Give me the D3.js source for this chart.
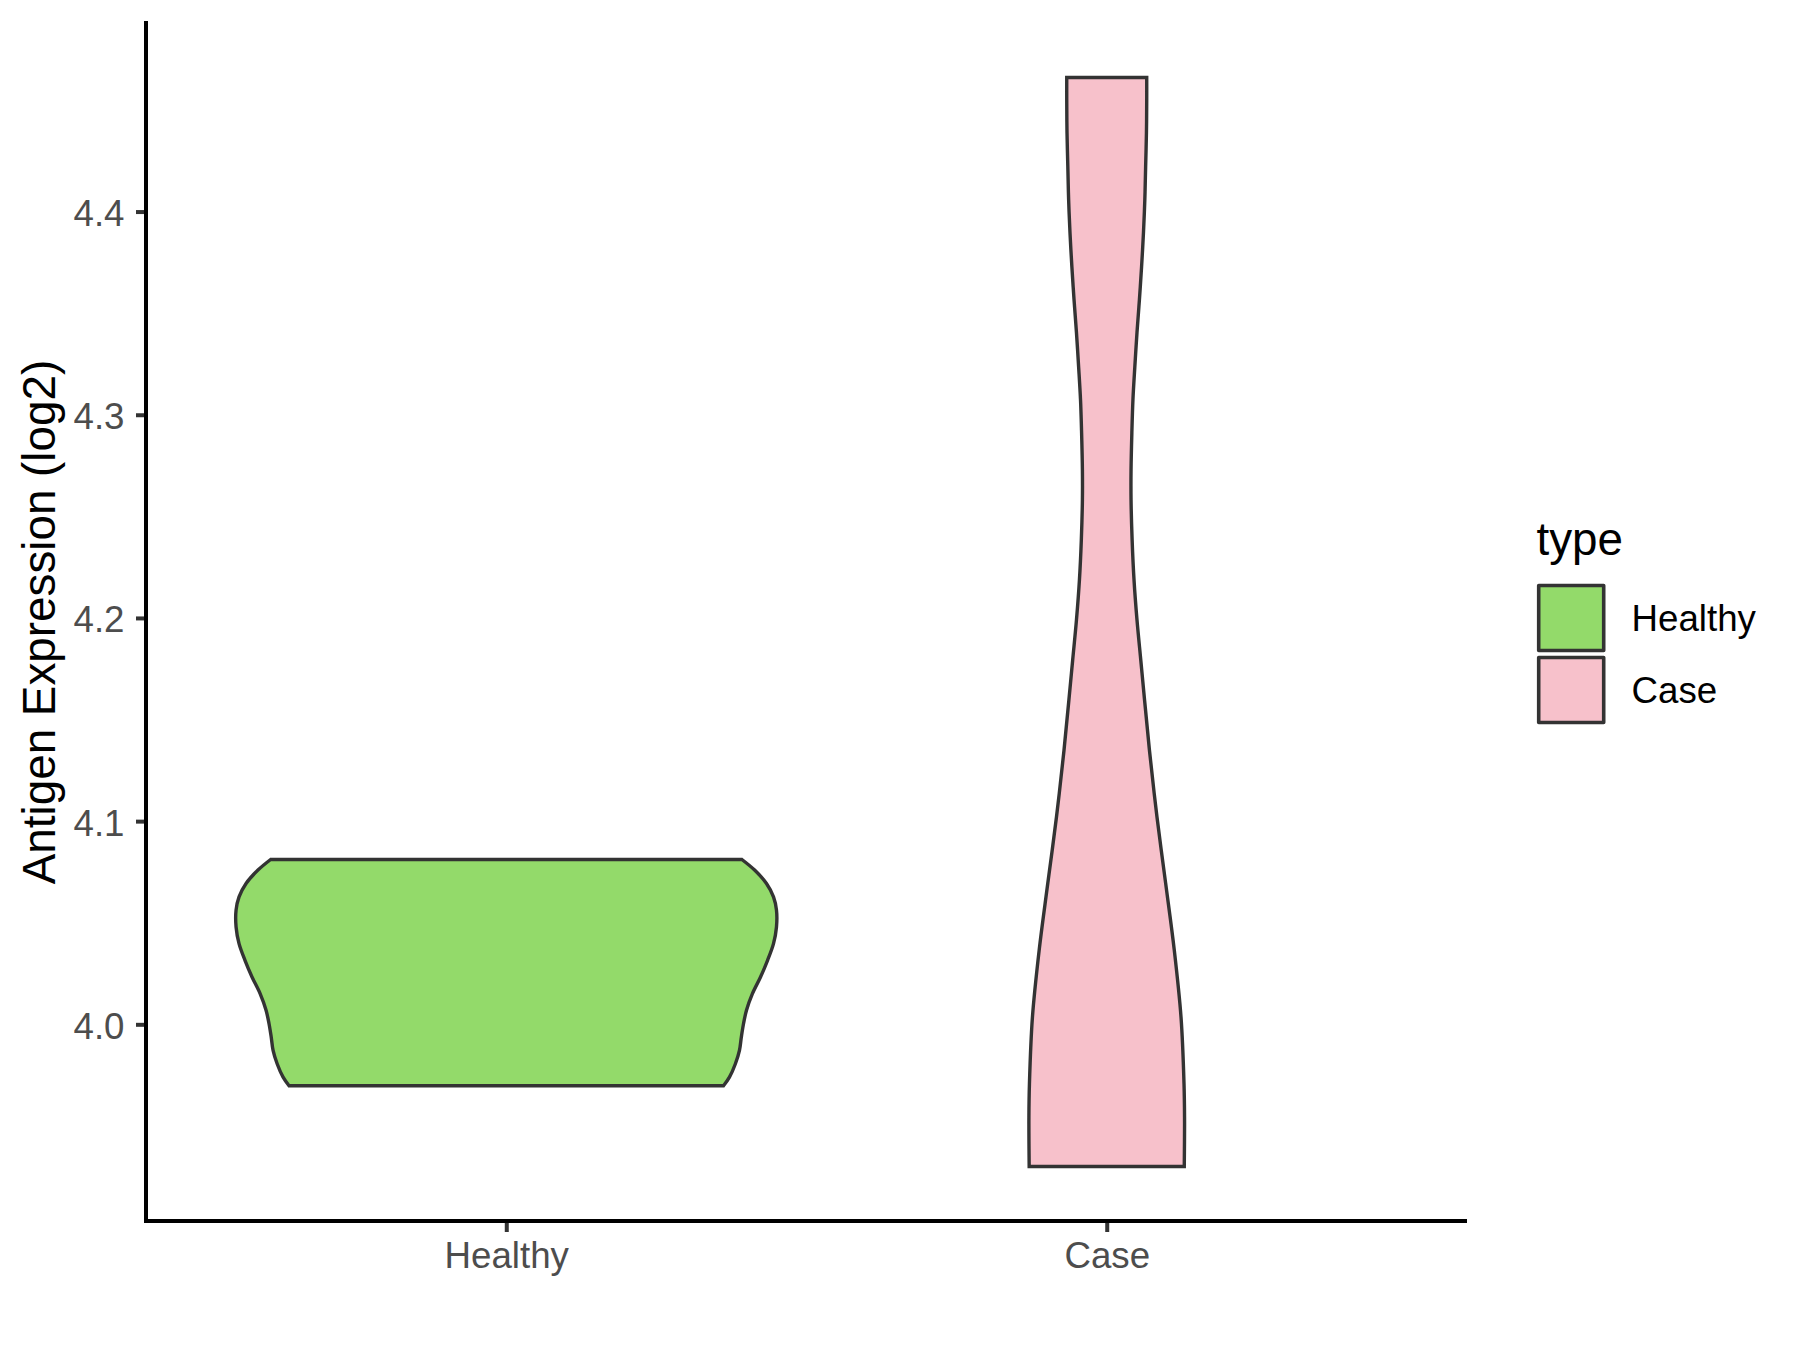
<!DOCTYPE html>
<html><head><meta charset="utf-8">
<script src="https://cdn.jsdelivr.net/npm/d3@7"></script>
<style>body{margin:0;background:#fff}</style>
</head><body>
<script>
// ---- data ----
const categories = ["Healthy", "Case"];
const fillColors = ["#93DA6A", "#F7C1CB"];
// violin outline: expression value and relative (scaled) density half-width
const healthyValues  = [3.9698, 3.9740, 3.9806, 3.9872, 3.9938, 4.0003, 4.0069, 4.0151, 4.0233, 4.0315, 4.0397, 4.0479, 4.0562, 4.0627, 4.0693, 4.0759, 4.0811];
const healthyDensity = [0.804, 0.826, 0.848, 0.863, 0.870, 0.878, 0.889, 0.911, 0.941, 0.967, 0.989, 1.000, 1.000, 0.989, 0.963, 0.919, 0.872];
const caseValues  = [3.9300, 3.9542, 3.9709, 4.0034, 4.0365, 4.0695, 4.1020, 4.1350, 4.1596, 4.1793, 4.1990, 4.2187, 4.2384, 4.2581, 4.2729, 4.2911, 4.3074, 4.3236, 4.3404, 4.3567, 4.3729, 4.3897, 4.4059, 4.4222, 4.4389, 4.4552, 4.4660];
const caseDensity = [0.287, 0.288, 0.286, 0.275, 0.250, 0.218, 0.186, 0.158, 0.140, 0.126, 0.112, 0.101, 0.094, 0.090, 0.090, 0.093, 0.097, 0.104, 0.112, 0.121, 0.129, 0.136, 0.141, 0.144, 0.147, 0.148, 0.148];
const yTicks = [4.0, 4.1, 4.2, 4.3, 4.4];
const yTickLabels = ["4.0", "4.1", "4.2", "4.3", "4.4"];
const yTitle = "Antigen Expression (log2)";
const legendTitle = "type";

// ---- layout ----
const W = 1800, H = 1350;
const panel = {left: 146, right: 1467, top: 23, bottom: 1221};
const FONT = "'Liberation Sans', Arial, Helvetica, sans-serif";

const svg = d3.select("body").append("svg").attr("width", W).attr("height", H);
svg.append("rect").attr("width", W).attr("height", H).attr("fill", "#fff");

const allVals = healthyValues.concat(caseValues);
const [vmin, vmax] = d3.extent(allVals);
const pad = (vmax - vmin) * 0.05;
const y = d3.scaleLinear().domain([vmin - pad, vmax + pad]).range([panel.bottom, panel.top]);
const x = d3.scalePoint().domain(categories).range([panel.left, panel.right]).padding(0.6);
const maxD = d3.max(healthyDensity.concat(caseDensity));
const w = d3.scaleLinear().domain([0, maxD]).range([0, x.step() * 0.45]);

const violins = [
  {cat: categories[0], values: healthyValues, dens: healthyDensity, fill: fillColors[0]},
  {cat: categories[1], values: caseValues, dens: caseDensity, fill: fillColors[1]}
];

violins.forEach(v => {
  const pts = v.values.map((val, i) => ({val, d: v.dens[i]}));
  const cx = x(v.cat);
  const area = d3.area()
    .curve(d3.curveCatmullRom.alpha(0.5))
    .y(p => y(p.val))
    .x0(p => cx - w(p.d))
    .x1(p => cx + w(p.d));
  svg.append("path").attr("d", area(pts))
    .attr("fill", v.fill).attr("stroke", "#333333")
    .attr("stroke-width", 3.4).attr("stroke-linejoin", "miter");
});

// ---- axes ----
const gy = svg.append("g").attr("transform", `translate(${panel.left},0)`)
  .call(d3.axisLeft(y).tickValues(yTicks).tickFormat((d, i) => yTickLabels[i])
    .tickSize(10).tickSizeOuter(0).tickPadding(11.5));
gy.select(".domain").remove();
gy.selectAll(".tick line").attr("stroke", "#333333").attr("stroke-width", 4);
gy.selectAll(".tick text").attr("fill", "#4D4D4D").attr("dy", "0.38em")
  .style("font-family", FONT).style("font-size", "36.7px");

const gx = svg.append("g").attr("transform", `translate(0,${panel.bottom})`)
  .call(d3.axisBottom(x).tickSize(11).tickSizeOuter(0).tickPadding(10));
gx.select(".domain").remove();
gx.selectAll(".tick line").attr("stroke", "#333333").attr("stroke-width", 4);
gx.selectAll(".tick text").attr("fill", "#4D4D4D")
  .style("font-family", FONT).style("font-size", "36.7px");

const yr = y.range(), xr = x.range();
svg.append("line").attr("x1", xr[0]).attr("x2", xr[0]).attr("y1", yr[0]).attr("y2", yr[1])
  .attr("stroke", "#000").attr("stroke-width", 4).attr("stroke-linecap", "square");
svg.append("line").attr("x1", xr[0]).attr("x2", xr[1]).attr("y1", yr[0]).attr("y2", yr[0])
  .attr("stroke", "#000").attr("stroke-width", 4);

// y title
svg.append("text").attr("transform", `translate(55,${(panel.top + panel.bottom) / 2}) rotate(-90)`)
  .attr("text-anchor", "middle").attr("fill", "#000")
  .style("font-family", FONT).style("font-size", "45.8px").text(yTitle);

// ---- legend ----
const lg = svg.append("g");
lg.append("text").attr("x", 1536.5).attr("y", 555).attr("fill", "#000")
  .style("font-family", FONT).style("font-size", "45.8px").text(legendTitle);
const keySize = 72, keyTop = 582;
categories.forEach((c, i) => {
  const ky = keyTop + i * keySize;
  lg.append("rect").attr("x", 1538.7).attr("y", ky + 3.5).attr("width", 65).attr("height", 65)
    .attr("fill", fillColors[i]).attr("stroke", "#333333").attr("stroke-width", 3.6)
    .attr("stroke-linejoin", "round");
  lg.append("text").attr("x", 1631.5).attr("y", ky + keySize / 2).attr("dy", "0.35em")
    .attr("fill", "#000").style("font-family", FONT).style("font-size", "36.7px").text(c);
});
</script>
</body></html>
